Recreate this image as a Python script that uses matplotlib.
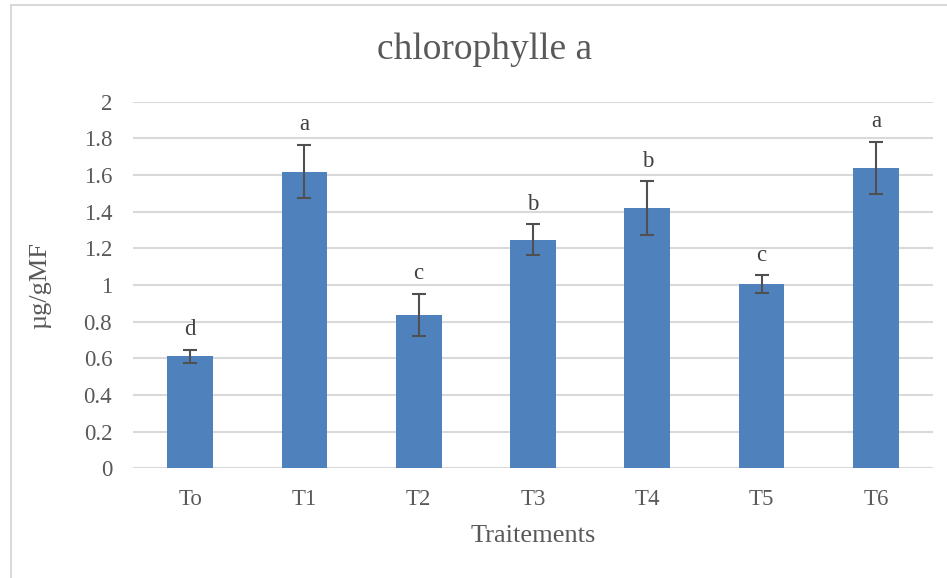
import numpy as np
import matplotlib
matplotlib.use("Agg")
import matplotlib.pyplot as plt
from matplotlib.patches import Rectangle

# data
treatments = ["To", "T1", "T2", "T3", "T4", "T5", "T6"]
means = [0.612, 1.618, 0.838, 1.248, 1.418, 1.006, 1.638]
errors = [0.036, 0.145, 0.115, 0.083, 0.147, 0.047, 0.143]
letters = ["d", "a", "c", "b", "b", "c", "a"]

text_color = "#595959"
plt.rcParams["font.family"] = ["Liberation Serif", "DejaVu Serif"]

fig = plt.figure(figsize=(9.47, 5.78), dpi=100)
ax = fig.add_axes([0.1404, 0.1898, 0.8448, 0.6342])

x = np.arange(len(treatments))
ax.bar(x, means, width=0.4, color="#4F81BD", zorder=3)
ax.errorbar(x, means, yerr=errors, fmt="none", ecolor="#505050",
            elinewidth=1.5, capsize=5, capthick=1.5, zorder=4)

# significance letters above the error bars
for xi, m, e, lab in zip(x, means, errors, letters):
    ax.annotate(lab, (xi, m + e), xytext=(0, 7), textcoords="offset points",
                ha="center", va="bottom", fontsize=16.5, color="#404040")

ax.set_xlim(-0.5, len(treatments) - 0.5)
ax.set_ylim(0, 2)
ax.set_yticks(np.arange(0, 2.01, 0.2))
ax.set_yticklabels(["0", "0.2", "0.4", "0.6", "0.8", "1", "1.2", "1.4", "1.6", "1.8", "2"])
ax.set_xticks(x)
ax.set_xticklabels(treatments)
ax.tick_params(axis="y", length=0, labelsize=16.5, colors=text_color, pad=15)
ax.tick_params(axis="x", length=0, labelsize=16.5, colors=text_color, pad=15)
ax.yaxis.grid(True, color="#D9D9D9", linewidth=1.5, zorder=0)
for s in ax.spines.values():
    s.set_visible(False)

fig.text(485 / 947, 1 - 50 / 578, "chlorophylle a", fontsize=27, color=text_color,
         ha="center", va="center")
ax.set_xlabel("Traitements", fontsize=19, color=text_color, labelpad=11)
ax.set_ylabel("µg/gMF", fontsize=19, color=text_color, labelpad=23)

# light frame around the chart area
fig.patches.append(Rectangle((11 / 947, -0.01), 1.0, 1.01 - 5 / 578, transform=fig.transFigure,
                             fill=False, edgecolor="#D9D9D9", linewidth=1.5))

fig.savefig("out.png", dpi=100)
